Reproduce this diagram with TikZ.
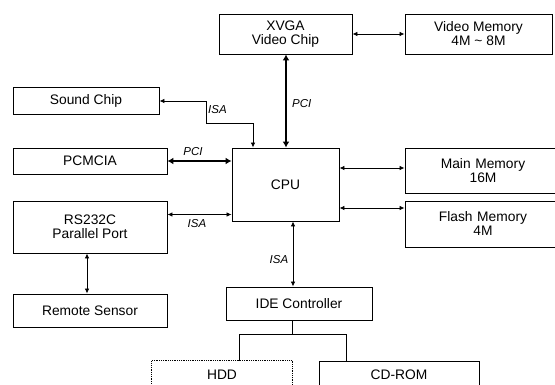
\documentclass[tikz,border=0pt]{standalone}
\usepackage{fontspec}
\setmainfont{Liberation Sans}
\usetikzlibrary{arrows.meta}
\begin{document}
\begin{tikzpicture}[x=1pt,y=-1pt,
  box/.style={draw,line width=0.9pt,rectangle,inner sep=0pt,align=center,
    font=\fontsize{13.8}{14}\selectfont},
  thin/.style={line width=0.8pt,{Latex[length=5pt,width=4.5pt]}-{Latex[length=5pt,width=4.5pt]}},
  thick/.style={line width=2.6pt,{Latex[length=6pt,width=7pt]}-{Latex[length=6pt,width=7pt]}},
  lab/.style={font=\fontsize{11.5}{12}\selectfont\itshape,inner sep=1pt},
  txt/.style={font=\fontsize{13.8}{14}\selectfont,inner sep=0pt}]
\useasboundingbox (0,0) rectangle (555,385);
\clip (0,0) rectangle (555,385);
\node[box,minimum width=133pt,minimum height=40pt] (xvga) at (285.5,34) {XVGA\\Video Chip};
\node[box,minimum width=147pt,minimum height=40pt] (vmem) at (478.5,34) {Video Memory\\4M \textasciitilde{} 8M};
\node[box,minimum width=146pt,minimum height=27pt] (sound) at (86,100.5) {Sound Chip};
\node[box,minimum width=154pt,minimum height=26pt] (pcmcia) at (90,161) {PCMCIA};
\node[box,minimum width=107pt,minimum height=73pt] (cpu) at (285.5,184.5) {CPU};
\node[box,minimum width=154pt,minimum height=52pt] (rs) at (90,227) {RS232C\\Parallel Port};
\node[box,minimum width=154pt,minimum height=33pt] (remote) at (90,310.5) {Remote Sensor};
\node[box,minimum width=156pt,minimum height=45pt,text width=148pt] (mmem) at (483,170.5) {Main Memory\\16M};
\node[box,minimum width=156pt,minimum height=46pt,text width=148pt] (flash) at (483,224) {Flash Memory\\4M};
\node[box,minimum width=146pt,minimum height=33pt] (ide) at (299,303.5) {IDE Controller};
\node[draw=none,inner sep=0pt,minimum width=140pt,minimum height=30pt,anchor=north] (hdd) at (222,360.5) {};
\draw[line width=0.8pt,densely dotted] (hdd.south west) -- (hdd.north west) -- (hdd.north east) -- (hdd.south east);
\node[txt] (hddt) at (222,375) {HDD};
\node[box,minimum width=160pt,minimum height=30pt,anchor=north] (cdrom) at (399,360.5) {};
\node[txt] (cdt) at (399,375) {CD-ROM};
% connectors
\draw[thin] (xvga.east) -- (vmem.west);
\coordinate (c1) at (286,0);
\draw[thick] (xvga.south -| c1) -- (cpu.north -| c1);
\node[lab,anchor=west] (l1) at (291,104) {PCI};
\coordinate (sc1) at (206,101);
\coordinate (sc2) at (206,123);
\coordinate (sc3) at (253,123);
\draw[thin] (sound.east |- sc1) -- (sc1) -- (sc2) -- (sc3) -- (sc3 |- cpu.north);
\node[lab,anchor=west] (l2) at (207,110) {ISA};
\draw[thick] (pcmcia.east) -- (cpu.west |- pcmcia.east);
\node[lab] (l3) at (193,152) {PCI};
\coordinate (rsy) at (0,214.5);
\draw[thin] (rs.east |- rsy) -- (cpu.west |- rsy);
\node[lab] (l4) at (197,224) {ISA};
\coordinate (rx) at (87,0);
\draw[thin] (rs.south -| rx) -- (remote.north -| rx);
\coordinate (idex) at (293,0);
\draw[thin] (cpu.south -| idex) -- (ide.north -| idex);
\node[lab] (l5) at (279,260) {ISA};
\coordinate (my) at (0,168);
\coordinate (fy) at (0,208);
\draw[thin] (cpu.east |- my) -- (mmem.west |- my);
\draw[thin] (cpu.east |- fy) -- (flash.west |- fy);
\coordinate (b) at (292,334);
\coordinate (bl) at (239,334);
\coordinate (br) at (346,334);
\draw[line width=0.8pt] (ide.south -| b) -- (b);
\draw[line width=0.8pt] (bl) -- (br);
\draw[line width=0.8pt] (bl) -- (hdd.north -| bl);
\draw[line width=0.8pt] (br) -- (cdrom.north -| br);
\end{tikzpicture}
\end{document}
